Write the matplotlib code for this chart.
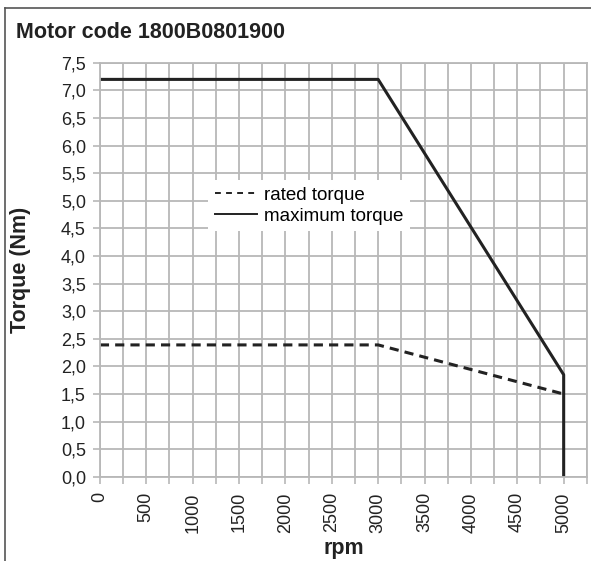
import matplotlib.pyplot as plt
import numpy as np
from matplotlib.lines import Line2D

plt.rcParams['font.family'] = ['Liberation Sans', 'DejaVu Sans']

# data
max_rpm = [0, 3000, 5000, 5000]
max_torque = [7.2, 7.2, 1.85, 0.0]
rated_rpm = [0, 3000, 5000]
rated_torque = [2.39, 2.39, 1.5]

x_ticks = np.arange(0, 5001, 500)
y_ticks = np.arange(0, 7.51, 0.5)
y_labels = [f"{v:.1f}".replace(".", ",") for v in y_ticks]

fig = plt.figure(figsize=(5.91, 5.61), dpi=100)
ax = fig.add_axes([0.169, 0.150, 0.824, 0.738])

grid_c = '#b8b8b8'
txt_c = '#222222'
ax.set_xlim(0, 5250)
ax.set_ylim(0, 7.5)
ax.set_xticks(x_ticks)
ax.set_xticks(np.arange(250, 5251, 500), minor=True)
ax.set_yticks(y_ticks)
ax.set_yticklabels(y_labels)
ax.set_xticklabels([str(v) for v in x_ticks], rotation=90)
ax.tick_params(axis='both', which='both', direction='out', length=5, width=1.2,
               color=grid_c, labelsize=13, labelcolor=txt_c)
ax.tick_params(axis='y', pad=5)
ax.tick_params(axis='x', pad=6)
ax.grid(True, which='both', color=grid_c, linewidth=1.3)
ax.set_axisbelow(True)
for s in ax.spines.values():
    s.set_color(grid_c)
    s.set_linewidth(1.3)

ax.plot(rated_rpm, rated_torque, color=txt_c, linewidth=2.2,
        linestyle=(0, (3, 2)), label='rated torque')
ax.plot(max_rpm, max_torque, color=txt_c, linewidth=2.2,
        label='maximum torque')

leg = ax.legend(loc='upper left', bbox_to_anchor=(0.203, 0.739), frameon=True,
                fontsize=13.5, handlelength=2.25, handletextpad=0.37,
                borderpad=0.35, labelspacing=0.2, fancybox=False)
leg.get_frame().set_edgecolor('none')
leg.get_frame().set_facecolor('white')
leg.get_frame().set_alpha(1)
for h in leg.get_lines():
    h.set_linewidth(1.4)
leg.get_lines()[0].set_linestyle((0, (3, 2.7)))

ax.set_ylabel('Torque (Nm)', fontsize=15.5, fontweight='bold', color=txt_c, va='center')
ax.set_xlabel('rpm', fontsize=15.5, fontweight='bold', color=txt_c, va='center')
ax.yaxis.set_label_coords(-0.163, 0.5)
ax.xaxis.set_label_coords(0.5, -0.173)

fig.text(16 / 591, 1 - 33 / 561, 'Motor code 1800B0801900', fontsize=15.5,
         fontweight='bold', color=txt_c, va='center', ha='left')

# outer frame (top and left edges)
fig.add_artist(Line2D([5 / 591, 5 / 591], [0, 1 - 8 / 561], color='#555555',
                      linewidth=1.2, transform=fig.transFigure))
fig.add_artist(Line2D([5 / 591, 1], [1 - 8 / 561, 1 - 8 / 561], color='#555555',
                      linewidth=1.2, transform=fig.transFigure))

fig.savefig('out.png', dpi=100)
